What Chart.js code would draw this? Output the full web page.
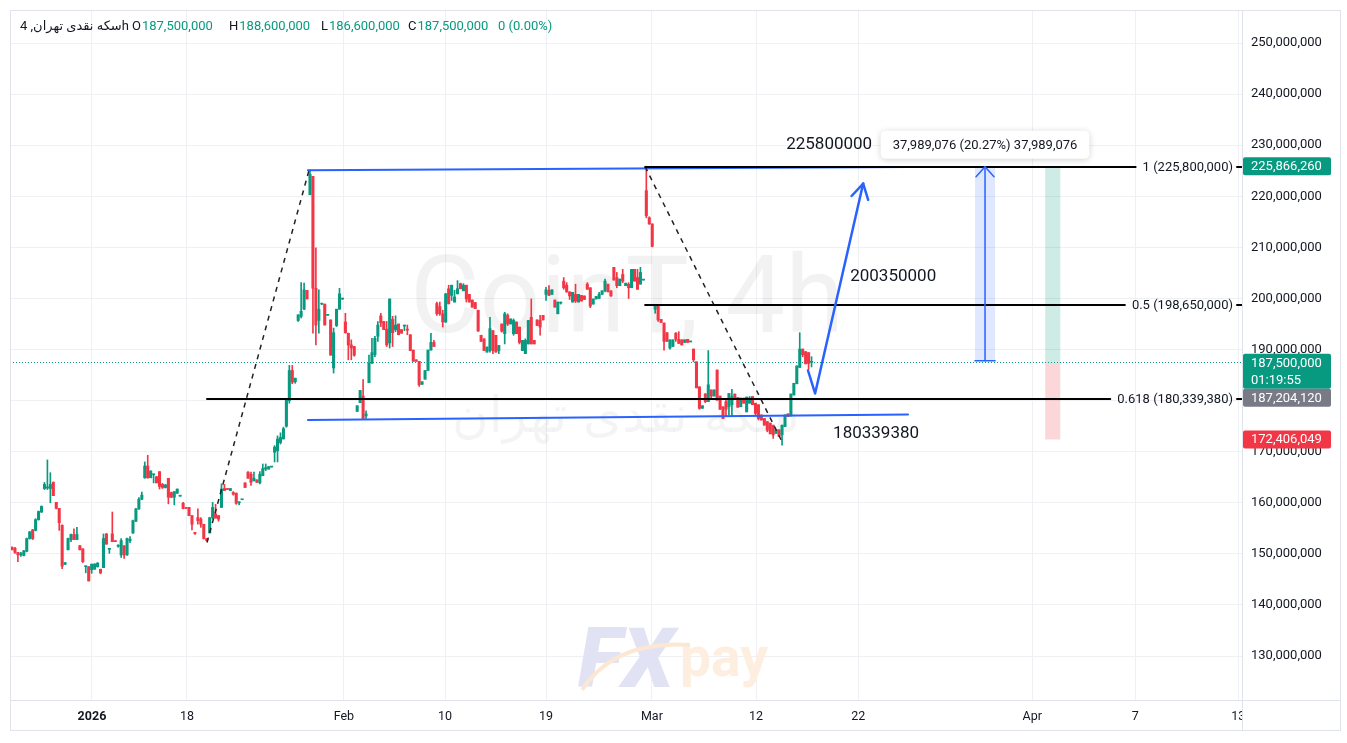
<!DOCTYPE html>
<html><head><meta charset="utf-8">
<script src="https://cdn.jsdelivr.net/npm/chart.js@4.4.1/dist/chart.umd.min.js"></script>
<style>html,body{margin:0;padding:0;background:#fff;overflow:hidden}canvas{display:block}</style>
</head><body>
<canvas id="c" width="1347" height="743" style="width:1347px;height:743px"></canvas>
<script>
// ---------- DATA (prices in millions of rials) ----------
const UNIT = 1e6;
const seriesName = 'سکه نقدی تهران';
const timeframe = '4h';
const lastOHLC = [187.5, 188.6, 186.6, 187.5];
const lastChange = [0, 0.00];

// candles [open, high, low, close], 4h bars in order
const ohlcJan1 = [
[151.3,151.4,150.8,150.8],[151.1,151.3,150.1,150.3],[150.3,150.3,148.5,149.8],[149.8,150.3,149.5,150.1],
[149.7,150.7,149.6,150.6],[150.5,153.1,150.4,153.0],[153.0,154.4,152.9,154.3],[154.7,154.8,152.8,153.0],
[154.6,156.9,154.5,156.7],[156.7,158.4,156.6,158.3],[158.2,159.4,158.1,159.3],[162.8,164.0,162.6,163.6],
[162.9,168.4,162.6,163.1],[162.8,165.9,160.0,163.6],[164.0,164.1,161.4,161.4],[160.1,160.1,158.8,158.9],
[158.9,158.9,154.6,156.1],[155.6,155.7,147.1,147.6],[148.0,148.3,147.9,148.3],[150.8,153.1,150.8,153.0],
[152.8,153.9,152.4,153.8],[153.8,154.9,152.8,152.8],[152.8,155.2,152.8,153.8],[151.6,151.7,150.8,150.8],
[151.0,151.0,148.3,148.5],[147.5,147.6,146.3,147.6],[147.5,147.5,144.7,144.7],[146.9,148.0,146.2,148.0],
[147.0,148.1,147.0,148.0],[147.5,148.3,147.4,148.2],[147.0,147.0,146.1,146.3],[147.3,153.9,147.3,153.0],
[153.9,154.0,151.9,151.9],[150.9,151.1,150.1,151.0],[153.9,158.2,152.4,152.4],[152.6,152.6,152.4,152.4],
[151.5,151.8,151.3,151.7],[149.8,153.0,149.3,152.6],[151.6,151.6,149.1,149.8],[149.8,153.1,149.7,153.0],
[152.6,153.4,152.2,152.9],[154.1,156.6,154.0,156.5],[156.4,158.9,156.3,158.8],[158.8,161.0,158.7,160.7],
[160.7,162.1,160.6,161.5],[164.9,168.0,164.8,167.2],[167.2,169.3,164.8,164.9],[164.9,166.3,164.9,166.2],
[165.5,165.6,163.9,165.6],[165.1,165.2,163.9,163.9]
];
const ohlcJan2 = [
[166.1,166.1,162.7,163.2],[163.6,163.8,162.8,163.0],[163.0,163.6,162.9,163.5],[164.8,164.8,159.8,161.1],
[162.0,162.1,161.0,161.1],[161.1,162.2,159.6,162.2],[161.9,162.7,161.8,162.7],[161.3,161.4,161.3,161.4],
[159.9,160.1,158.8,158.9],[159.1,159.1,158.9,158.9],[159.1,159.1,157.5,157.5],[157.5,157.5,154.7,155.8],
[154.1,154.2,153.8,154.0],[157.1,158.8,155.8,156.5],[156.8,157.1,155.2,155.8],[155.8,155.8,152.9,153.0],
[153.0,153.0,152.5,152.6],[154.1,157.1,154.1,157.1],[157.1,160.1,156.8,159.1],[157.8,159.7,157.0,157.0],
[157.5,157.5,156.4,156.8],[159.1,163.7,159.1,162.7],[162.8,163.6,162.4,162.4],[162.8,162.8,162.6,162.6],
[162.4,162.8,162.4,162.8],[162.0,162.2,161.5,161.7],[161.9,161.9,159.7,159.9],[160.0,160.2,159.6,160.2],
[160.6,160.7,160.6,160.7],[163.9,163.9,163.0,163.0],[166.0,166.1,164.8,164.8],[165.6,166.0,163.4,164.0],
[164.3,166.0,164.3,164.8],[164.5,164.5,164.0,164.0],[163.9,166.1,163.7,165.6],[165.3,167.6,165.3,166.7],
[166.6,167.6,166.3,166.9],[166.6,167.1,166.6,167.1],[167.0,167.1,167.0,167.1],[169.9,171.2,168.0,170.9],
[170.2,173.1,168.0,172.5],[171.8,173.7,171.5,172.8],[172.5,174.8,172.5,174.5],[175.0,180.3,174.8,180.3],
[180.0,186.9,179.5,185.9],[185.9,186.9,183.3,183.6],[183.7,184.4,183.4,184.4]
];
const ohlcFeb1 = [
[195.7,196.8,195.5,196.8],[196.5,203.1,196.2,197.5],[197.9,203.0,197.8,201.7],[201.6,201.6,199.9,199.9],
[220.3,225.2,220.3,224.3],[223.9,223.9,193.2,202.0],[202.0,209.9,190.9,194.8],[195.7,201.7,193.2,197.9],
[198.9,199.0,198.8,198.9],[198.9,198.9,194.8,194.8],[196.7,196.8,196.7,196.8],[195.8,195.8,188.9,188.9],
[186.4,194.2,185.4,193.3],[194.7,197.9,194.5,197.9],[197.9,202.0,197.9,200.9],[199.9,200.0,199.8,199.9],
[195.4,197.1,193.2,193.3],[193.2,193.2,188.0,190.9],[190.9,191.9,188.0,190.3],[190.6,190.6,188.7,188.9],
[177.9,179.0,177.9,179.0],[179.6,182.0,179.6,182.0],[180.9,184.1,176.3,176.5],[177.0,178.0,176.5,177.4],
[183.5,188.9,183.5,187.3],[187.3,192.2,187.3,189.4],[189.0,192.6,188.6,192.2],[192.6,195.5,191.6,194.8],
[196.6,197.1,194.5,195.2],[195.5,195.5,193.9,193.9],[194.0,195.5,190.6,190.9],[191.3,199.9,190.3,199.9],
[195.9,196.5,190.6,193.3],[193.9,196.6,193.5,194.8],[195.0,195.0,192.9,192.9],[193.9,193.9,193.2,193.2],
[194.6,194.8,193.7,194.7],[193.9,194.8,192.9,193.8],[192.9,192.9,189.8,189.8],[189.9,189.9,187.7,187.7],
[188.0,188.0,187.7,187.7],[187.7,187.7,182.8,183.1],[183.2,183.7,183.2,183.7],[184.2,185.9,184.2,185.9],
[185.9,189.9,185.9,189.9],[189.9,193.2,189.9,191.4]
];
const ohlcFeb2 = [
[191.4,191.8,190.6,190.6],[199.0,199.3,196.7,197.0],[198.4,199.3,196.7,197.0],[197.0,197.7,194.4,195.4],
[195.4,201.0,195.3,200.9],[201.9,202.6,198.9,199.0],[200.6,202.6,199.6,202.6],[199.3,201.6,199.3,200.3],
[200.9,203.5,200.9,201.9],[202.9,203.0,201.9,201.9],[201.5,202.9,201.5,202.6],[202.6,202.6,199.3,199.9],
[200.8,200.8,199.3,199.3],[199.7,199.7,198.3,198.3],[199.2,199.2,198.0,198.0],[197.7,197.7,193.6,193.6],
[192.8,192.8,191.6,191.6],[192.1,192.1,189.8,189.8],[189.5,190.5,189.5,190.5],[189.8,196.3,189.5,194.1],
[193.7,193.7,189.2,189.8],[192.8,192.8,189.5,189.5],[189.8,190.8,189.2,190.8],[195.0,195.0,193.4,193.6],
[193.1,197.3,191.1,197.0],[196.7,197.0,194.7,195.0],[195.0,196.0,195.0,196.0],[193.1,196.0,192.8,195.7],
[195.4,195.4,193.1,193.1],[194.4,194.4,191.1,191.4],[189.8,191.8,189.8,191.8],[189.2,192.1,189.2,191.8],
[191.1,195.7,191.1,195.7],[196.3,199.9,191.1,191.1],[191.8,191.8,191.1,191.1],[195.8,195.8,194.7,194.7],
[195.7,196.7,192.8,194.4],[196.7,196.7,195.8,195.8],[200.8,202.2,199.6,201.7],[201.6,202.5,200.6,200.6],
[200.8,201.7,200.8,201.7],[199.7,199.7,198.3,198.3],[197.0,199.3,197.0,199.3]
];
const ohlcFeb3 = [
[199.1,199.3,198.9,199.2],[203.4,204.1,201.8,202.1],[202.6,203.1,201.2,201.3],[201.3,201.3,199.8,200.5],
[199.3,201.2,199.3,201.2],[200.8,202.8,199.2,199.5],[199.3,200.8,199.3,200.8],[200.6,200.6,199.5,199.5],
[200.5,200.5,199.8,199.8],[202.8,203.1,201.8,201.8],[202.1,202.1,198.2,198.5],[198.9,199.9,198.9,199.9],
[199.9,200.4,199.9,200.4],[200.0,201.2,200.0,200.8],[200.8,201.5,200.8,201.5],[201.5,203.8,201.3,203.4],
[202.8,202.8,201.3,201.3],[201.5,201.5,200.4,200.5],[206.1,206.1,203.6,203.6],[204.1,205.1,202.1,202.5],
[202.5,203.8,202.5,203.8],[204.7,205.7,203.1,203.4],[202.5,203.0,202.5,203.0],[202.8,203.1,200.0,202.1],
[202.1,205.7,202.1,205.7],[205.7,205.7,203.4,203.4],[204.1,205.7,201.8,201.8],[202.8,206.1,202.8,205.1],
[203.6,203.7,203.6,203.7],[221.1,225.9,215.8,216.2],[215.8,216.0,214.5,214.6],[214.6,214.6,210.1,210.2]
];
const ohlcMar = [
[197.9,198.8,197.1,198.8],[198.6,198.8,195.5,195.8],[195.9,195.9,195.3,195.3],[195.2,195.2,189.9,191.6],
[193.3,193.3,191.6,191.6],[190.3,191.9,190.1,191.9],[190.6,191.9,190.6,191.9],[193.2,193.3,191.6,192.0],
[192.0,193.5,191.2,191.2],[191.9,191.9,190.9,190.9],[191.4,191.9,191.4,191.9],[192.0,192.0,191.4,191.4],
[191.5,191.6,191.5,191.6],[190.1,190.1,187.6,188.0],[187.6,187.6,182.5,182.5],[182.7,182.7,178.3,178.5],
[178.5,179.0,178.5,179.0],[181.3,181.4,179.6,179.8],[179.8,189.8,179.8,183.1],[182.1,182.1,180.5,180.9],
[180.9,182.1,180.9,182.1],[186.0,186.0,180.1,180.1],[180.9,180.9,178.3,178.3],[178.8,178.8,176.5,176.5],
[179.8,180.1,176.9,178.3],[178.8,181.4,177.2,181.4],[179.2,182.2,176.9,180.8],[181.3,181.3,180.5,180.5],
[180.6,180.6,178.7,178.7],[178.8,180.5,178.8,180.5],[180.5,180.5,179.5,179.5],[177.8,180.7,177.8,180.7],
[179.5,180.8,179.5,180.5],[180.8,180.8,179.2,179.2],[179.5,179.5,177.2,177.5],[179.2,179.2,176.2,176.5],
[177.2,177.2,176.2,176.2],[176.5,176.5,175.2,175.2],[175.9,175.9,173.9,174.2],[175.6,175.6,173.5,173.5],
[175.2,175.2,172.6,173.3],[173.6,174.3,173.6,174.3],[174.3,174.3,173.0,173.0],[173.3,175.2,171.3,175.2],
[174.9,177.2,174.9,177.2],[177.4,177.4,176.9,176.9],[177.0,181.3,177.0,181.3],[181.1,183.4,181.1,183.4],
[183.3,186.8,183.3,186.8],[186.5,193.3,186.5,190.1],[190.1,190.1,188.6,189.0],[189.6,189.6,187.2,187.2],
[189.4,189.4,186.1,187.3],[187.5,188.6,186.6,187.5]
];

// time axis: bar index where each date label falls
const dateTickIndex = [27.1, 59.3, 112.5, 146.8, 181.0, 216.9, 252.2, 286.8, 345.8, 380.7, 415.6];
const dateTickLabels = ['2026', '18', 'Feb', '10', '19', 'Mar', '12', '22', 'Apr', '7', '13'];
const priceTicks = [130, 140, 150, 160, 170, 180, 190, 200, 210, 220, 230, 240, 250];
const xRange = [-0.68, 416.9];
const yRange = [121.4, 256.47];

// drawings (bar index, price)
const trendUpper = [[100.3, 225.1], [303.7, 225.75]];
const trendLower = [[100.3, 176.2], [303.7, 177.3]];
const fibA = { from: [66.1, 152.24], to: [101.0, 225.8] };
const fibALevels = [[0.618, 180.33938]];
const fibB = { from: [214.6, 225.8], to: [261.4, 171.5] };
const fibBLevels = [[1, 225.8], [0.5, 198.65]];
const projectionPath = [[269.8, 185.9], [272.2, 181.4], [288.5, 222.5]];
const priceNotes = [[262.4, 230.0, '225800000'], [284.1, 204.3, '200350000'], [278.3, 173.5, '180339380']];
const measureX = [326.4, 333.2];
const measurePrices = [187.810924, 225.8];
const measureDelta = 37989076;
const measurePct = 20.27;
const positionX = [350.2, 355.3];
const positionPrices = { target: 225.86626, entry: 187.20412, stop: 172.406049 };
const lastPrice = 187.5;
const countdown = '01:19:55';
</script>
<script>
const GREEN = '#089981', RED = '#f23645', TXT = '#131722', BLUE = '#2962ff';
const FONT = 'Roboto, "Noto Sans", "DejaVu Sans", sans-serif';
const candles = [].concat(ohlcJan1, ohlcJan2, ohlcFeb1, ohlcFeb2, ohlcFeb3, ohlcMar);
const colors = candles.map(c => c[3] >= c[0] ? GREEN : RED);
const bodies = candles.map((c, i) => ({ x: i, y: [Math.min(c[0], c[3]), Math.max(c[0], c[3])] }));
const wicks = candles.map((c, i) => ({ x: i, y: [c[2], c[1]] }));
const fmt = v => Math.round(v * UNIT).toLocaleString('en-US');

function line(ctx, pts, color, width, dash) {
  ctx.save(); ctx.strokeStyle = color; ctx.lineWidth = width; ctx.setLineDash(dash || []);
  ctx.lineCap = dash ? 'butt' : 'round'; ctx.lineJoin = 'round';
  ctx.beginPath(); pts.forEach((p, i) => i ? ctx.lineTo(p[0], p[1]) : ctx.moveTo(p[0], p[1])); ctx.stroke(); ctx.restore();
}
function rrect(ctx, x, y, w, h, r) {
  ctx.beginPath(); ctx.moveTo(x + r, y); ctx.arcTo(x + w, y, x + w, y + h, r); ctx.arcTo(x + w, y + h, x, y + h, r);
  ctx.arcTo(x, y + h, x, y, r); ctx.arcTo(x, y, x + w, y, r); ctx.closePath();
}
function fitFont(ctx, text, weight, style, width, family) {
  ctx.font = `${style} ${weight} 100px ${family || FONT}`;
  const w = ctx.measureText(text).width;
  return 100 * width / w;
}

const drawings = {
  id: 'drawings',
  beforeDatasetsDraw(chart) {
    const ctx = chart.ctx, X = v => chart.scales.x.getPixelForValue(v), Y = v => chart.scales.y.getPixelForValue(v);
    ctx.save();
    ctx.fillStyle = 'rgba(0,0,0,0.05)'; ctx.textBaseline = 'alphabetic'; ctx.textAlign = 'left';
    let s = fitFont(ctx, 'CoinT, 4h', 'normal', 'normal', 434);
    ctx.font = `normal ${s}px ${FONT}`; ctx.fillText('CoinT, 4h', 410, 332);
    const AR = '"DejaVu Sans", sans-serif';
    s = fitFont(ctx, seriesName, 'normal', 'normal', 348, AR);
    ctx.font = `normal ${s}px ${AR}`; ctx.fillStyle = 'rgba(0,0,0,0.045)'; ctx.fillText(seriesName, 452, 432);
    ctx.fillStyle = '#e2e2f5';
    s = fitFont(ctx, 'FX', '900', 'italic', 96);
    ctx.font = `italic 900 ${s}px ${FONT}`; ctx.fillText('FX', 578, 687);
    ctx.fillStyle = '#fdeedf';
    s = fitFont(ctx, 'pay', 'bold', 'normal', 88);
    ctx.font = `bold ${s}px ${FONT}`; ctx.fillText('pay', 680, 676);
    ctx.strokeStyle = '#fce8d2'; ctx.lineWidth = 4; ctx.beginPath(); ctx.moveTo(582, 690); ctx.quadraticCurveTo(615, 640, 690, 645); ctx.stroke();
    const px0 = X(positionX[0]), px1 = X(positionX[1]);
    ctx.fillStyle = 'rgba(8,153,129,0.2)';
    ctx.fillRect(px0, Y(positionPrices.target), px1 - px0, Y(positionPrices.entry) - Y(positionPrices.target));
    ctx.fillStyle = 'rgba(242,54,69,0.2)';
    ctx.fillRect(px0, Y(positionPrices.entry), px1 - px0, Y(positionPrices.stop) - Y(positionPrices.entry));
    const mx0 = X(measureX[0]), mx1 = X(measureX[1]);
    ctx.fillStyle = 'rgba(41,98,255,0.15)';
    ctx.fillRect(mx0, Y(measurePrices[1]), mx1 - mx0, Y(measurePrices[0]) - Y(measurePrices[1]));
    const ly = Math.round(Y(lastPrice)) + 0.5;
    line(ctx, [[chart.chartArea.left, ly], [chart.chartArea.right, ly]], GREEN, 1, [1, 2]);
    ctx.restore();
  },
  afterDatasetsDraw(chart) {
    const ctx = chart.ctx, X = v => chart.scales.x.getPixelForValue(v), Y = v => chart.scales.y.getPixelForValue(v);
    const P = p => [X(p[0]), Y(p[1])];
    ctx.save();
    line(ctx, trendUpper.map(P), BLUE, 2);
    line(ctx, trendLower.map(P), BLUE, 2);
    line(ctx, [P(fibA.from), P(fibA.to)], '#222', 1.5, [5, 5]);
    line(ctx, [P(fibB.from), P(fibB.to)], '#222', 1.5, [5, 5]);
    ctx.font = `13px ${FONT}`; ctx.textBaseline = 'middle'; ctx.textAlign = 'right';
    const levelRight = chart.chartArea.right - 9;
    const drawLevel = (startX, lv) => {
      const txt = `${lv[0]} (${fmt(lv[1])})`;
      const w = ctx.measureText(txt).width;
      const y = Math.round(Y(lv[1]));
      line(ctx, [[X(startX), y], [levelRight - w - 7, y]], '#000', 2);
      ctx.fillStyle = TXT; ctx.fillText(txt, levelRight, y + 1);
      line(ctx, [[chart.chartArea.right - 5, y], [chart.chartArea.right, y]], '#000', 2);
    };
    fibALevels.forEach(lv => drawLevel(fibA.from[0], lv));
    fibBLevels.forEach(lv => drawLevel(fibB.from[0], lv));
    const pp = projectionPath.map(P);
    line(ctx, pp, BLUE, 2.5);
    const a = pp[pp.length - 1], b = pp[pp.length - 2];
    const len = Math.hypot(b[0] - a[0], b[1] - a[1]); const bx = (b[0] - a[0]) / len, by = (b[1] - a[1]) / len;
    const ang = Math.PI / 6, L = 17;
    const w1 = [a[0] + L * (Math.cos(ang) * bx - Math.sin(ang) * by), a[1] + L * (Math.sin(ang) * bx + Math.cos(ang) * by)];
    const w2 = [a[0] + L * (Math.cos(-ang) * bx - Math.sin(-ang) * by), a[1] + L * (Math.sin(-ang) * bx + Math.cos(-ang) * by)];
    line(ctx, [w1, a, w2], BLUE, 2.5);
    ctx.font = `17px ${FONT}`; ctx.textAlign = 'left'; ctx.textBaseline = 'middle'; ctx.fillStyle = TXT;
    priceNotes.forEach(n => ctx.fillText(n[2], X(n[0]), Y(n[1])));
    const mx = (X(measureX[0]) + X(measureX[1])) / 2, mTop = Y(measurePrices[1]), mBot = Y(measurePrices[0]);
    line(ctx, [[mx, mBot], [mx, mTop]], BLUE, 1.5);
    line(ctx, [[mx - 9, mTop + 10], [mx, mTop], [mx + 9, mTop + 10]], BLUE, 1.5);
    line(ctx, [[X(measureX[0]), mBot], [X(measureX[1]), mBot]], BLUE, 1.5);
    const lbl = `${measureDelta.toLocaleString('en-US')} (${measurePct.toFixed(2)}%) ${measureDelta.toLocaleString('en-US')}`;
    ctx.font = `13px ${FONT}`;
    const lw = ctx.measureText(lbl).width + 24, lh = 28;
    ctx.save(); ctx.shadowColor = 'rgba(0,0,0,0.18)'; ctx.shadowBlur = 6; ctx.shadowOffsetY = 1;
    ctx.fillStyle = '#fff'; rrect(ctx, mx - lw / 2, mTop - 36, lw, lh, 5); ctx.fill(); ctx.restore();
    ctx.fillStyle = TXT; ctx.textAlign = 'center'; ctx.fillText(lbl, mx, mTop - 36 + lh / 2 + 1);
    ctx.restore();
  },
  afterDraw(chart) {
    const ctx = chart.ctx, Y = v => chart.scales.y.getPixelForValue(v);
    const ca = chart.chartArea;
    ctx.save();
    ctx.fillStyle = '#fff'; ctx.fillRect(ca.right + 1, ca.bottom + 1, 200, 40);
    ctx.strokeStyle = '#e0e3eb'; ctx.lineWidth = 1;
    ctx.strokeRect(10.5, 10.5, 1330, 720);
    ctx.beginPath(); ctx.moveTo(ca.right + 0.5, 10); ctx.lineTo(ca.right + 0.5, 731);
    ctx.moveTo(10, ca.bottom + 0.5); ctx.lineTo(1340, ca.bottom + 0.5); ctx.stroke();
    const tag = (yc, bg, lines) => {
      const h = lines.length === 1 ? 18 : 35;
      const top = lines.length === 1 ? yc - 9 : yc - 8.5;
      ctx.fillStyle = bg; rrect(ctx, ca.right + 1, top, 88, h, 2); ctx.fill();
      ctx.fillStyle = '#fff'; ctx.font = `13px ${FONT}`; ctx.textAlign = 'left'; ctx.textBaseline = 'middle';
      lines.forEach((t, i) => ctx.fillText(t, ca.right + 9, top + 9.5 + i * 17));
      return top + h;
    };
    tag(Y(positionPrices.target), GREEN, [fmt(positionPrices.target)]);
    const lastBottom = tag(Y(lastPrice), GREEN, [fmt(lastPrice), countdown]);
    tag(lastBottom + 9, '#787b86', [fmt(positionPrices.entry)]);
    tag(Y(positionPrices.stop), RED, [fmt(positionPrices.stop)]);
    ctx.textBaseline = 'middle'; ctx.textAlign = 'left'; ctx.font = `13px ${FONT}`; ctx.direction = 'ltr';
    ctx.fillStyle = TXT; ctx.fillText(`${seriesName}, ${timeframe}`, 20, 27);
    const parts = [['O', lastOHLC[0], 132], ['H', lastOHLC[1], 229], ['L', lastOHLC[2], 321], ['C', lastOHLC[3], 408]];
    parts.forEach(p => {
      ctx.fillStyle = TXT; ctx.fillText(p[0], p[2], 27);
      const w = ctx.measureText(p[0]).width;
      ctx.fillStyle = GREEN; ctx.fillText(fmt(p[1]), p[2] + w + 1, 27);
    });
    ctx.fillStyle = GREEN; ctx.fillText(`${lastChange[0]} (${lastChange[1].toFixed(2)}%)`, 498, 27);
    ctx.restore();
  }
};

new Chart(document.getElementById('c'), {
  type: 'bar',
  data: {
    datasets: [
      { data: bodies, backgroundColor: colors, barThickness: 2.4, grouped: false, minBarLength: 1, order: 0 },
      { data: wicks, backgroundColor: colors, barThickness: 1, grouped: false, order: 1 }
    ]
  },
  options: {
    responsive: false, animation: false, devicePixelRatio: 1,
    layout: { padding: { left: 10, top: 10, right: 0, bottom: 0 } },
    plugins: { legend: { display: false }, tooltip: { enabled: false } },
    scales: {
      x: {
        type: 'linear', min: xRange[0], max: xRange[1], offset: false,
        grid: { color: '#eef0f3', drawTicks: false, offset: false },
        border: { display: false },
        afterBuildTicks: s => { s.ticks = dateTickIndex.map(v => ({ value: v })); },
        afterFit: s => { s.height = 43; s.paddingLeft = 0; s.paddingRight = 0; },
        ticks: {
          autoSkip: false, maxRotation: 0, padding: 9, color: TXT,
          font: c => ({ family: FONT, size: 12.5, weight: c.index === 0 ? 'bold' : 'normal' }),
          callback: (v, i) => dateTickLabels[i]
        }
      },
      y: {
        position: 'right', min: yRange[0], max: yRange[1], beginAtZero: false,
        grid: { color: '#eef0f3', drawTicks: false },
        border: { display: false },
        afterBuildTicks: s => { s.ticks = priceTicks.map(v => ({ value: v })); },
        afterFit: s => { s.width = 105; s.paddingTop = 0; s.paddingBottom = 0; },
        ticks: { padding: 9, color: TXT, font: { family: FONT, size: 13 }, callback: v => fmt(v) }
      }
    }
  },
  plugins: [drawings]
});
</script>
</body></html>
